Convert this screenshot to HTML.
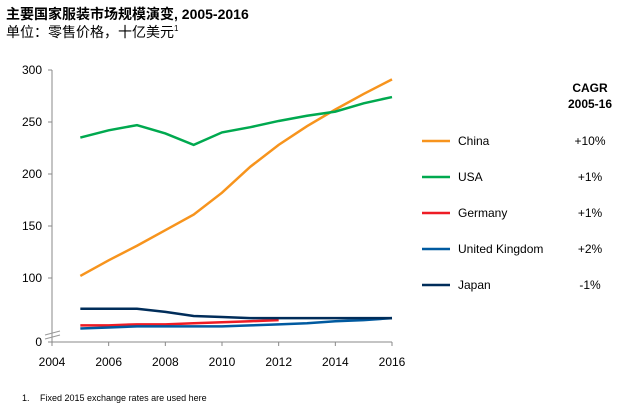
<!DOCTYPE html>
<html><head><meta charset="utf-8"><style>
body{margin:0;background:#fff;font-family:"Liberation Sans","Noto Sans CJK SC",sans-serif;}
svg text{font-family:"Liberation Sans","Noto Sans CJK SC",sans-serif;}
</style></head><body>
<svg id="c" width="638" height="415">
<text x="6" y="19" font-size="14" font-weight="bold">主要国家服装市场规模演变, 2005-2016</text>
<text x="6" y="37" font-size="14">单位：零售价格，十亿美元<tspan font-size="8" dy="-6">1</tspan></text>
<text x="590" y="92" font-size="12" font-weight="bold" text-anchor="middle">CAGR</text>
<text x="590" y="108" font-size="12" font-weight="bold" text-anchor="middle">2005-16</text>
<g><text x="22" y="401" font-size="9">1.</text><text x="40" y="401" font-size="9">Fixed 2015 exchange rates are used here</text></g>
<g id="axes"></g><g id="marks"></g><g id="legend"></g>
</svg>
<script>
const years=[2005,2006,2007,2008,2009,2010,2011,2012,2013,2014,2015,2016];
const seriesNames=["China","USA","Germany","United Kingdom","Japan"];
const colors=["#f7941d","#00a94f","#ee1c25","#005aa0","#002d5a"];
const cagr=["+10%","+1%","+1%","+2%","-1%"];
const china=[102,117,131,146,161,182,207,228,246,262,277,291];
const usa=[235,242,247,239,228,240,245,251,256,260,268,274];
const germany=[16,16,17,17,18,19,20,21];
const uk=[13,14,15,15,15,15,16,17,18,20,21,23];
const japan=[32,32,32,29,25,24,23,23,23,23,23,23];
const xTicks=[2004,2006,2008,2010,2012,2014,2016];
const yTicks=[0,100,150,200,250,300];
const data=[china,usa,germany,uk,japan];
const ns="http://www.w3.org/2000/svg";
function X(y){return 52+(y-2004)*340/12;}
function Y(v){return v>=80?70+(300-v)*1.04:342-v*1.04;}
function mk(t,a,p){const e=document.createElementNS(ns,t);for(const k in a)e.setAttribute(k,a[k]);p.appendChild(e);return e;}
const ax=document.getElementById('axes'),mg=document.getElementById('marks'),lg=document.getElementById('legend');
let l=mk('line',{x1:52,y1:70,x2:52,y2:342,stroke:'#888'},ax);


l=mk('line',{x1:52,y1:342,x2:392,y2:342,stroke:'#888'},ax);


mk('line',{x1:45,y1:335,x2:60,y2:331,stroke:'#999'},ax);
mk('line',{x1:45,y1:339,x2:60,y2:335,stroke:'#999'},ax);
yTicks.forEach(v=>{const y=Y(v);mk('line',{x1:48,y1:y,x2:52,y2:y,stroke:'#888'},ax);
const t=mk('text',{x:42,y:y+4,'font-size':12,'text-anchor':'end'},ax);t.textContent=v;

});
xTicks.forEach(v=>{const x=X(v);mk('line',{x1:x,y1:342,x2:x,y2:346,stroke:'#888'},ax);
const t=mk('text',{x:x,y:366,'font-size':12,'text-anchor':'middle'},ax);t.textContent=v;

});
data.forEach((s,i)=>{const pts=s.map((v,j)=>X(years[j])+','+Y(v)).join(' ');
const p=mk('polyline',{points:pts,fill:'none',stroke:colors[i],'stroke-width':2.5},mg);


const y=141+i*36;
const g=mk('g',{},lg);


mk('line',{x1:422,y1:y,x2:450,y2:y,stroke:colors[i],'stroke-width':2.5},g);
let t=mk('text',{x:458,y:y+4,'font-size':12},g);t.textContent=seriesNames[i];
t=mk('text',{x:590,y:y+4,'font-size':12,'text-anchor':'middle'},g);t.textContent=cagr[i];

});
</script>
</body></html>
